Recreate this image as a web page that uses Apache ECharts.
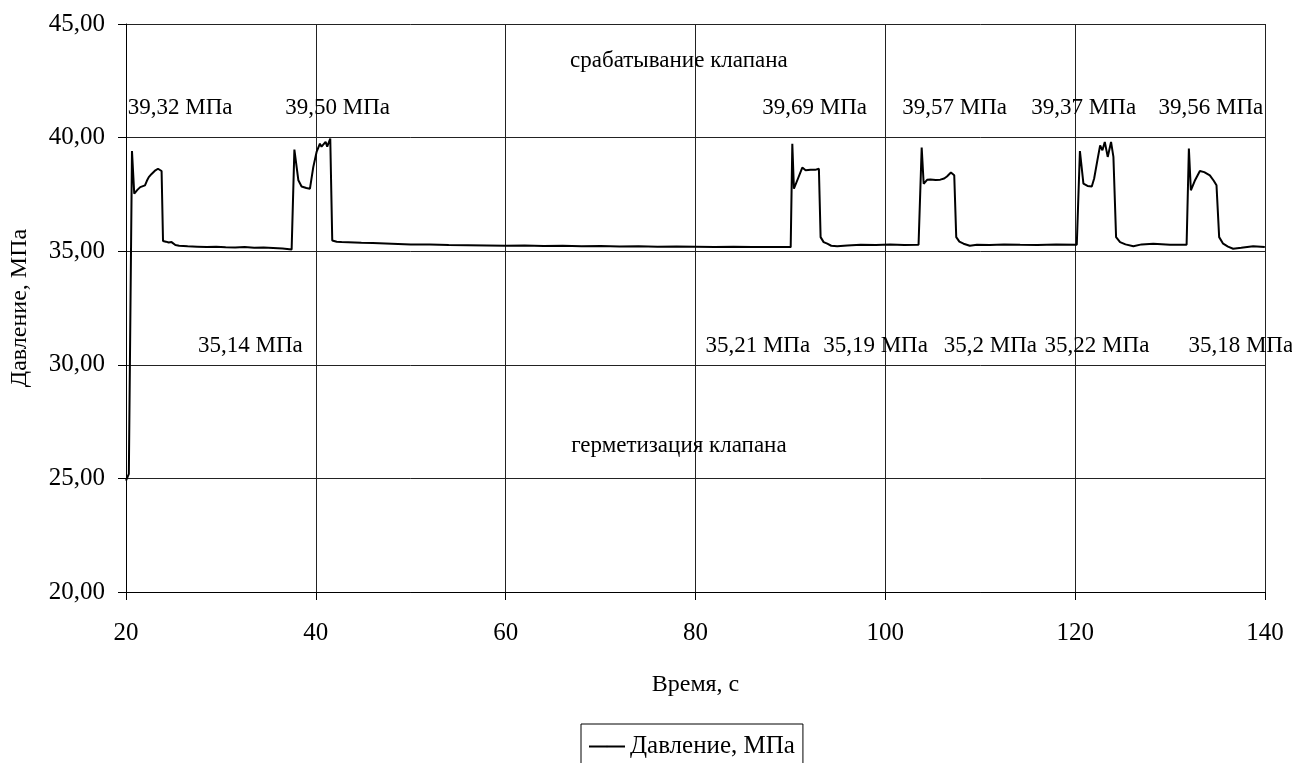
<!DOCTYPE html>
<html>
<head>
<meta charset="utf-8">
<script src="https://cdn.jsdelivr.net/npm/echarts@6/dist/echarts.min.js"></script>
<style>
  html, body { margin: 0; padding: 0; background: #fff; }
  #chart { width: 1292px; height: 763px; }
</style>
</head>
<body>
<div id="chart"></div>
<script>
// время, с
var timeS = [
  20.0, 20.15, 20.3, 20.63, 20.87, 21.2, 21.5, 21.7, 22.0, 22.2, 22.4, 22.7, 23.1, 23.37, 23.55, 23.75,
  23.9, 24.2, 24.5, 24.8, 25.2, 25.6, 26.5, 27.5, 28.5, 29.5, 30.5, 31.5, 32.5, 33.5, 34.5, 35.5, 36.5, 37.45,
  37.74, 38.16, 38.5, 39.0, 39.38, 39.73, 40.08, 40.43, 40.6, 40.78, 41.03, 41.2, 41.3, 41.52,
  41.73, 42.2, 42.71, 44.8, 46, 48, 50, 52, 54, 56, 58, 60, 62, 64, 66, 68, 70, 72, 74, 76, 78, 80, 82, 84, 86, 88, 90.03,
  90.2, 90.37, 90.8, 91.25, 91.6, 92.13, 92.6, 93.0,
  93.18, 93.5, 93.88, 94.3, 94.93, 96, 97.4, 99, 100.5, 102, 103.5,
  103.83, 104.04, 104.4, 104.74, 105.3, 105.79, 106.2, 106.49, 106.91, 107.26,
  107.47, 107.8, 108.24, 108.9, 109.65, 111, 112.5, 114.2, 116, 118, 120.17,
  120.5, 120.87, 121.3, 121.75, 122.0, 122.34, 122.63, 122.87, 123.12, 123.43, 123.78, 124.03,
  124.31, 124.73, 125.3, 126.13, 127, 128.23, 130, 131.74,
  131.98, 132.19, 132.6, 133.14, 133.6, 134.19, 134.6, 134.89,
  135.17, 135.59, 136.1, 136.64, 137.5, 138.75, 139.98
];
// давление, МПа
var pressure = [
  24.9, 24.95, 25.2, 39.41, 37.53, 37.7, 37.82, 37.85, 37.9, 38.1, 38.26, 38.4, 38.56, 38.63, 38.55, 38.53,
  35.45, 35.42, 35.38, 35.4, 35.27, 35.24, 35.22, 35.2, 35.18, 35.2, 35.17, 35.16, 35.18, 35.15, 35.16, 35.14, 35.12, 35.08,
  39.47, 38.12, 37.85, 37.78, 37.75, 38.7, 39.37, 39.73, 39.6, 39.59, 39.81, 39.6, 39.59, 39.96,
  35.47, 35.42, 35.4, 35.37, 35.36, 35.33, 35.3, 35.29, 35.27, 35.26, 35.25, 35.24, 35.25, 35.23, 35.24, 35.22, 35.23, 35.21, 35.22, 35.2, 35.21, 35.2, 35.19, 35.2, 35.18, 35.19, 35.18,
  39.73, 37.75, 38.2, 38.68, 38.56, 38.59, 38.58, 38.63,
  35.62, 35.4, 35.33, 35.24, 35.22, 35.25, 35.28, 35.27, 35.29, 35.27, 35.28,
  39.56, 37.97, 38.14, 38.16, 38.13, 38.15, 38.2, 38.29, 38.46, 38.34,
  35.62, 35.42, 35.33, 35.24, 35.28, 35.27, 35.29, 35.28, 35.27, 35.29, 35.28,
  39.41, 37.97, 37.87, 37.85, 38.2, 39.0, 39.66, 39.44, 39.81, 39.15, 39.81, 39.15,
  35.62, 35.4, 35.3, 35.22, 35.3, 35.33, 35.28, 35.28,
  39.52, 37.68, 38.1, 38.53, 38.48, 38.34, 38.1, 37.9,
  35.62, 35.33, 35.2, 35.11, 35.15, 35.22, 35.18
];

// подписи на графике
var noteText = [
  'срабатывание клапана', 'герметизация клапана',
  '39,32 МПа', '39,50 МПа', '39,69 МПа', '39,57 МПа', '39,37 МПа', '39,56 МПа',
  '35,14 МПа', '35,21 МПа', '35,19 МПа', '35,2 МПа', '35,22 МПа', '35,18 МПа'
];
var noteX = [78.25, 78.25, 25.7, 42.3, 92.55, 107.3, 120.9, 134.3, 33.1, 86.56, 98.97, 111.06, 122.3, 137.45];
var noteY = [43.37, 26.43, 41.3, 41.3, 41.3, 41.3, 41.3, 41.3, 30.85, 30.85, 30.85, 30.85, 30.85, 30.85];

var xTicks = [20, 40, 60, 80, 100, 120, 140];

var font = '"Liberation Serif", "Times New Roman", serif';

var lineData = timeS.map(function (t, i) { return [t, pressure[i]]; });
var noteData = noteText.map(function (s, i) { return { value: [noteX[i], noteY[i]], name: s }; });

var chart = echarts.init(document.getElementById('chart'));
chart.setOption({
  animation: false,
  textStyle: { fontFamily: font, color: '#000' },
  grid: { left: 124, right: 27, top: 24, bottom: 171, containLabel: false },
  legend: {
    data: ['Давление, МПа'],
    left: 581,
    top: 724,
    orient: 'horizontal',
    itemWidth: 36,
    itemHeight: 2,
    padding: [10, 8, 10, 7],
    borderColor: '#000',
    borderWidth: 1,
    borderRadius: 0,
    textStyle: { fontFamily: font, fontSize: 25, color: '#000' }
  },
  xAxis: {
    type: 'value',
    min: xTicks[0],
    max: xTicks[xTicks.length - 1],
    interval: 20,
    name: 'Время, с',
    nameLocation: 'middle',
    nameGap: 81,
    nameTextStyle: { fontFamily: font, fontSize: 24, color: '#000' },
    axisLine: { show: true, lineStyle: { color: '#000', width: 1 } },
    axisTick: { show: true, inside: false, length: 8, lineStyle: { color: '#000' } },
    axisLabel: { fontFamily: font, fontSize: 25, color: '#000', margin: 29 },
    splitLine: { show: true, lineStyle: { color: '#222', width: 1 } }
  },
  yAxis: {
    type: 'value',
    min: 20,
    max: 45,
    interval: 5,
    name: 'Давление, МПа',
    nameLocation: 'middle',
    nameGap: 94,
    nameRotate: 90,
    nameTextStyle: { fontFamily: font, fontSize: 24, color: '#000' },
    axisLine: { show: true, lineStyle: { color: '#000', width: 1 } },
    axisTick: { show: true, inside: false, length: 8, lineStyle: { color: '#000' } },
    axisLabel: {
      fontFamily: font, fontSize: 25, color: '#000', margin: 21,
      formatter: function (v) { return v.toFixed(2).replace('.', ','); }
    },
    splitLine: { show: true, lineStyle: { color: '#222', width: 1 } }
  },
  series: [
    {
      name: 'Давление, МПа',
      type: 'line',
      data: lineData,
      symbol: 'none',
      lineStyle: { color: '#000', width: 2 },
      itemStyle: { color: '#000' }
    },
    {
      name: 'notes',
      type: 'scatter',
      data: noteData,
      symbolSize: 0,
      silent: true,
      itemStyle: { color: '#000', opacity: 1 },
      label: {
        show: true,
        position: 'inside',
        formatter: function (p) { return p.name; },
        fontFamily: font,
        fontSize: 23,
        color: '#000',
        opacity: 1,
        textBorderWidth: 0
      }
    }
  ]
});
</script>
</body>
</html>
